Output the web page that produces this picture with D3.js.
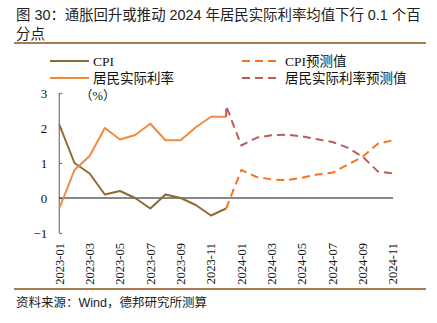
<!DOCTYPE html>
<html><head><meta charset="utf-8">
<script src="https://cdn.jsdelivr.net/npm/d3@7"></script>
<style>body{margin:0;background:#fff}svg{display:block}</style>
</head><body>
<script>
const months = ["2023-01","2023-02","2023-03","2023-04","2023-05","2023-06","2023-07","2023-08","2023-09","2023-10","2023-11","2023-12",
"2024-01","2024-02","2024-03","2024-04","2024-05","2024-06","2024-07","2024-08","2024-09","2024-10","2024-11"];
const tickMonths = ["2023-01","2023-03","2023-05","2023-07","2023-09","2023-11","2024-01","2024-03","2024-05","2024-07","2024-09","2024-11"];
const yTicks = [-1,0,1,2,3];
const cpiMonths = months.slice(0,12);
const cpi = [2.1,1.0,0.7,0.1,0.2,0.0,-0.3,0.1,0.0,-0.2,-0.5,-0.3];
const realRate = [-0.3,0.8,1.2,2.0,1.67,1.8,2.12,1.65,1.65,2.02,2.32,2.32];
const cpiFcMonths = ["2023-12","2024-01","2024-02","2024-03","2024-04","2024-05","2024-06","2024-07","2024-08","2024-09","2024-10","2024-11"];
const cpiFc = [-0.3,0.8,0.6,0.53,0.51,0.58,0.67,0.72,0.95,1.18,1.55,1.65];
const realFcMonths = ["2023-12","2023-12","2024-01","2024-02","2024-03","2024-04","2024-05","2024-06","2024-07","2024-08","2024-09","2024-10","2024-11"];
const realFc = [2.32,2.63,1.5,1.72,1.79,1.81,1.76,1.68,1.6,1.44,1.18,0.76,0.7];
const seriesNames = ["CPI","居民实际利率","CPI预测值","居民实际利率预测值"];
const colors = ["#8E6B32","#F08A3E","#F9731A","#C05A58"];

const W=437,H=323;
const svg=d3.select("body").append("svg").attr("width",W).attr("height",H);
const serif="'Liberation Serif','Times New Roman','Noto Sans CJK SC',serif";
const sans="'Liberation Sans','Noto Sans CJK SC',sans-serif";

svg.append("text").attr("x",16).attr("y",20).style("font-family",sans).style("font-size","14.4px").attr("fill","#222")
  .text("图 30：通胀回升或推动 2024 年居民实际利率均值下行 0.1 个百");
svg.append("text").attr("x",16).attr("y",39).style("font-family",sans).style("font-size","14.4px").attr("fill","#222").text("分点");
svg.append("line").attr("x1",14).attr("x2",426).attr("y1",43).attr("y2",43).attr("stroke","#A97B50").attr("stroke-width",2);
svg.append("line").attr("x1",14).attr("x2",426).attr("y1",289).attr("y2",289).attr("stroke","#A97B50").attr("stroke-width",2);
svg.append("text").attr("x",16).attr("y",307).style("font-family",sans).style("font-size","12.5px").attr("fill","#222").text("资料来源：Wind，德邦研究所测算");

const x=d3.scalePoint().domain(months).range([59.3,393]);
const y=d3.scaleLinear().domain([-1,3]).range([233,93]);

// y axis
const ya=svg.append("g").attr("transform","translate(59.3,0)").call(d3.axisLeft(y).tickValues(yTicks).tickSize(-3).tickPadding(12).tickFormat(d3.format("d")));
ya.select(".domain").attr("stroke","#808080").attr("stroke-width",1.3).attr("d","M0,93V233");
ya.selectAll(".tick line").attr("stroke","#808080").attr("stroke-width",1.3);
ya.selectAll("text").style("font-family",serif).style("font-size","13px").attr("fill","#111");

// x axis labels
const xa=svg.append("g").attr("transform","translate(0,241)").call(d3.axisBottom(x).tickValues(tickMonths).tickSize(0));
xa.select(".domain").remove();
xa.selectAll(".tick").attr("transform",null);
xa.selectAll("text").style("font-family",serif).style("font-size","12.5px").attr("fill","#111")
  .attr("text-anchor","end").attr("dy","0.35em").attr("x",0).attr("y",0)
  .each(function(d){d3.select(this).attr("transform",`translate(${x(d)},2) rotate(-90)`);});

svg.append("text").attr("x",80).attr("y",100).style("font-family",serif).style("font-size","12.5px").attr("fill","#111").text("（%）");

// zero line
svg.append("line").attr("x1",x(months[0])).attr("x2",x(months[months.length-1])).attr("y1",y(0)).attr("y2",y(0)).attr("stroke","#111").attr("stroke-width",1.2);

const line=d3.line().x(d=>x(d[0])).y(d=>y(d[1]));
function draw(ms,vals,color,dash){
  svg.append("path").datum(ms.map((m,i)=>[m,vals[i]])).attr("d",line).attr("fill","none")
    .attr("stroke",color).attr("stroke-width",2).attr("stroke-dasharray",dash||null).attr("stroke-linejoin","round");
}
draw(cpiMonths,cpi,colors[0]);
draw(cpiMonths,realRate,colors[1]);
draw(cpiFcMonths,cpiFc,colors[2],"8,5");
draw(realFcMonths,realFc,colors[3],"8,5");

// legend
const leg=[[50,61,0,null],[50,78,1,null],[242,61,2,"8,5"],[242,78,3,"8,5"]];
leg.forEach(([lx,ly,i,dash])=>{
  svg.append("line").attr("x1",lx).attr("x2",lx+39).attr("y1",ly).attr("y2",ly).attr("stroke",colors[i]).attr("stroke-width",2).attr("stroke-dasharray",dash);
  svg.append("text").attr("x",lx+43).attr("y",ly+5).style("font-family",serif).style("font-size","13.5px").attr("fill","#111").text(seriesNames[i]);
});
</script>
</body></html>
